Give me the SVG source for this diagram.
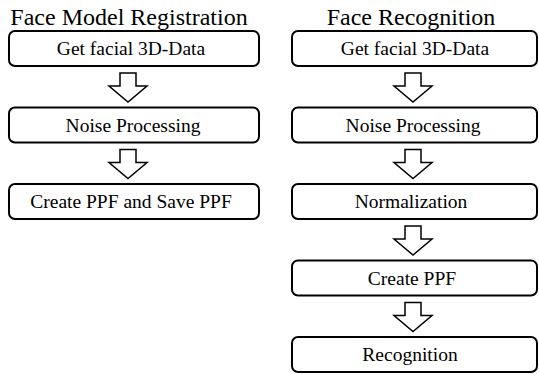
<svg xmlns="http://www.w3.org/2000/svg" width="539" height="374" viewBox="0 0 539 374">
<style>
.box{fill:#fff;stroke:#000;stroke-width:2}
.lbl{font-family:"Liberation Serif","Times New Roman",serif;font-size:19.5px;fill:#000;text-anchor:middle}
.title{font-family:"Liberation Serif","Times New Roman",serif;font-size:24px;fill:#000;text-anchor:middle}
.arr{fill:#fff;stroke:#000;stroke-width:1.5;stroke-linejoin:miter}
</style>
<rect width="539" height="374" fill="#fff"/>
<text class="title" x="129" y="25">Face Model Registration</text>
<text class="title" x="411" y="25">Face Recognition</text>
<g id="connectors">
<path class="arr" d="M120,73 H136 V86 H147 L128,102 L109,86 H120 Z"/>
<path class="arr" d="M120,149.5 H136 V162.5 H147 L128,178.5 L109,162.5 H120 Z"/>
<path class="arr" d="M405,73 H421 V86 H432 L413,102 L394,86 H405 Z"/>
<path class="arr" d="M405,149.5 H421 V162.5 H432 L413,178.5 L394,162.5 H405 Z"/>
<path class="arr" d="M405,226 H421 V239 H432 L413,255 L394,239 H405 Z"/>
<path class="arr" d="M405,302.5 H421 V315.5 H432 L413,331.5 L394,315.5 H405 Z"/>
</g>
<g id="l1"><rect class="box" x="9" y="31" width="250" height="35" rx="6"/><text class="lbl" x="131" y="55">Get facial 3D-Data</text></g>
<g id="l2"><rect class="box" x="9" y="107.5" width="250" height="35" rx="6"/><text class="lbl" x="133" y="131.5">Noise Processing</text></g>
<g id="l3"><rect class="box" x="9" y="184" width="250" height="35" rx="6"/><text class="lbl" x="131" y="208">Create PPF and Save PPF</text></g>
<g id="r1"><rect class="box" x="292" y="31" width="245" height="35" rx="6"/><text class="lbl" x="415" y="55">Get facial 3D-Data</text></g>
<g id="r2"><rect class="box" x="292" y="107.5" width="245" height="35" rx="6"/><text class="lbl" x="413" y="131.5">Noise Processing</text></g>
<g id="r3"><rect class="box" x="292" y="184" width="245" height="35" rx="6"/><text class="lbl" x="411" y="208">Normalization</text></g>
<g id="r4"><rect class="box" x="292" y="260.5" width="245" height="35" rx="6"/><text class="lbl" x="412" y="284.5">Create PPF</text></g>
<g id="r5"><rect class="box" x="292" y="337" width="245" height="35" rx="6"/><text class="lbl" x="410" y="361">Recognition</text></g>
</svg>
